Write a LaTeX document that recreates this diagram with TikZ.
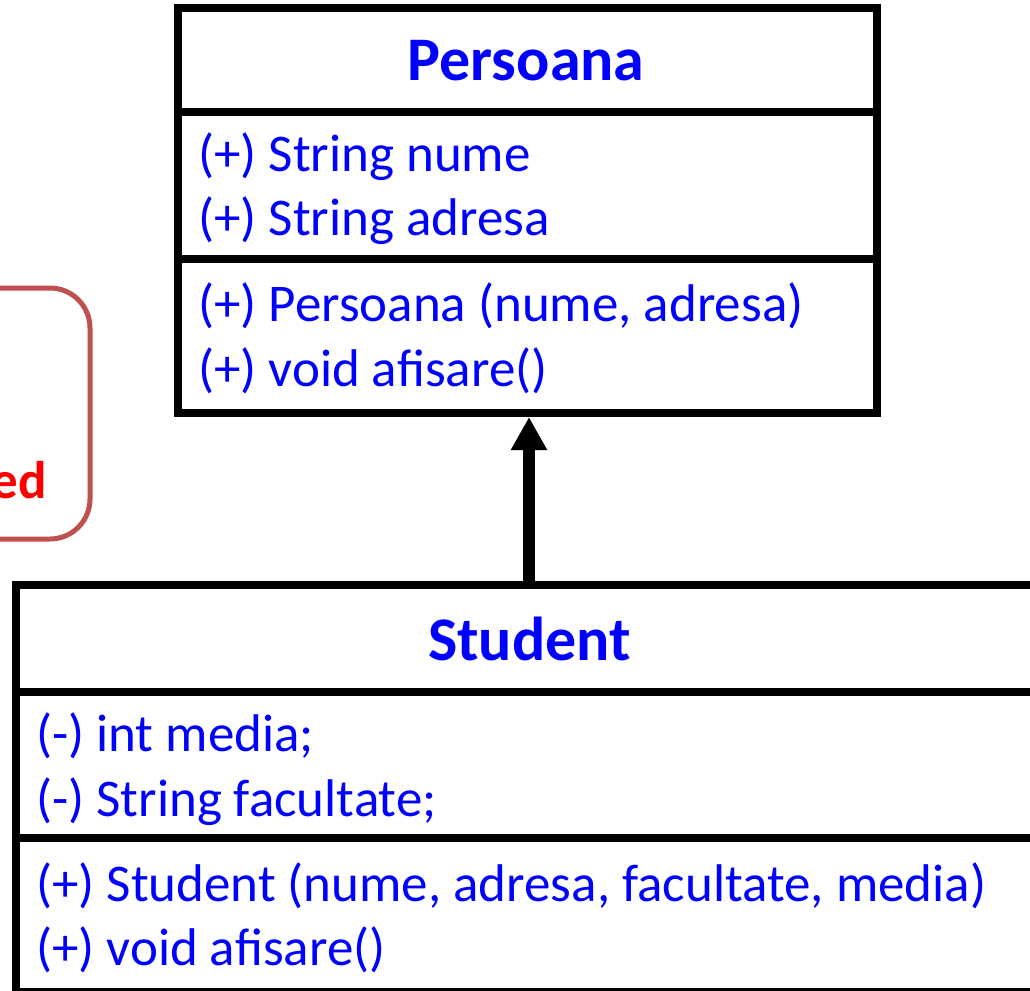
\documentclass[tikz,border=0pt]{standalone}
\usepackage{fontspec}
\setmainfont{Carlito}
\usetikzlibrary{arrows.meta}
\definecolor{umlblue}{RGB}{0,0,255}
\definecolor{notered}{RGB}{192,80,77}
\definecolor{notetext}{RGB}{255,0,0}
\begin{document}
\begin{tikzpicture}[x=1pt,y=-1pt,
  classbox/.style={draw=black, line width=8pt, fill=white, rectangle, inner sep=0pt},
  divider/.style={line width=8pt},
  member/.style={anchor=base west, inner sep=0pt, text=umlblue,
    font=\fontsize{53}{60}\selectfont},
  classname/.style={anchor=base, inner sep=0pt, text=umlblue,
    font=\fontsize{62}{70}\selectfont\bfseries},
  inherit/.style={line width=12pt, -{Triangle[width=34pt,length=33pt]}},
  notebox/.style={draw=notered, line width=5pt, rounded corners=40pt},
  notelabel/.style={anchor=base east, inner sep=0pt, text=notetext,
    font=\fontsize{53}{60}\selectfont\bfseries}]
\useasboundingbox (0,0) rectangle (1030,990);
\clip (0,0) rectangle (1030,990);

% note box on the left
\draw[notebox] (-300,288) rectangle (90,539);
\node[notelabel] (notetxt) at (47,498) {ed};

% class Persoana
\node[classbox, minimum width=699pt, minimum height=405pt] (pers) at (527.5,210.5) {};
\draw[divider] (pers.west |- {(0,111.7)}) -- (pers.east |- {(0,111.7)});
\draw[divider] (pers.west |- {(0,259)}) -- (pers.east |- {(0,259)});
\node[classname] (ptitle) at (526,81) {Persoana};
\node[member] (pa1) at (198,171.7) {(+) String nume};
\node[member] (pa2) at (198,235) {(+) String adresa};
\node[member] (pm1) at (198,321.7) {(+) Persoana (nume, adresa)};
\node[member] (pm2) at (198,386) {(+) void afisare()};

% class Student
\node[classbox, minimum width=1084pt, minimum height=407pt] (stud) at (558,788.5) {};
\draw[divider] (stud.west |- {(0,691.7)}) -- (stud.east |- {(0,691.7)});
\draw[divider] (stud.west |- {(0,838)}) -- (stud.east |- {(0,838)});
\node[classname] (stitle) at (529.5,660) {Student};
\node[member] (sa1) at (36,751.7) {(-) int media;};
\node[member] (sa2) at (36,816) {(-) String facultate;};
\node[member] (sm1) at (36,901.7) {(+) Student (nume, adresa, facultate, media)};
\node[member] (sm2) at (36,965.7) {(+) void afisare()};

% inheritance
\coordinate (tip) at (529,0);
\draw[inherit] (tip |- stud.north) -- (tip |- pers.south);
\end{tikzpicture}
\end{document}
